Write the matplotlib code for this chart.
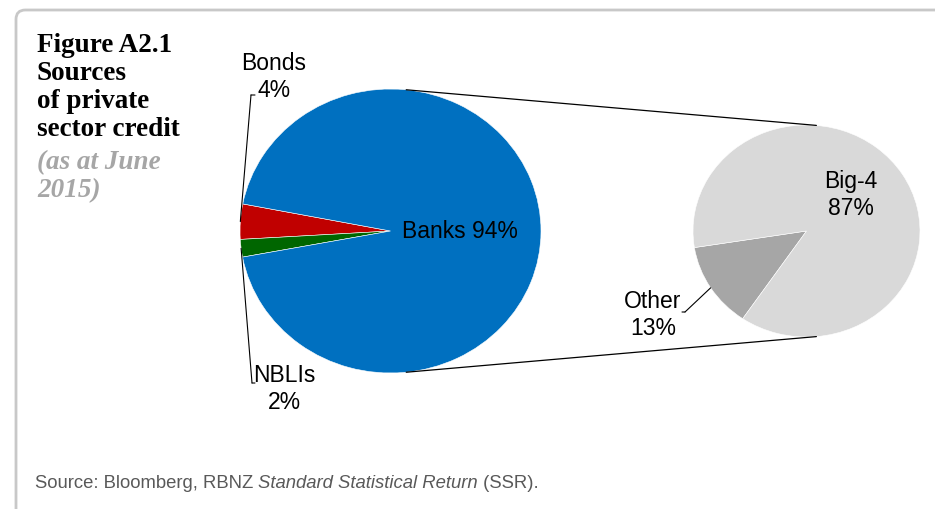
import numpy as np
import matplotlib
matplotlib.use("Agg")
import matplotlib.pyplot as plt
from matplotlib.patches import FancyBboxPatch, ConnectionPatch

# data
main_labels = ["Bonds", "NBLIs", "Banks"]
main_values = [4, 2, 94]
main_colors = ["#C00000", "#006600", "#0070C0"]

bank_labels = ["Other", "Big-4"]
bank_values = [13, 87]
bank_colors = ["#A6A6A6", "#D9D9D9"]

W, H = 935, 509
fig = plt.figure(figsize=(W / 100, H / 100), dpi=100)
fig.patch.set_facecolor("white")


def fx(x):
    return x / W


def fy(y):
    return 1 - y / H


# card outline (rounded top-left corner)
card = FancyBboxPatch((fx(16), fy(560)), fx(1000), (560 - 10) / H,
                      boxstyle="round,pad=0,rounding_size=0.01",
                      transform=fig.transFigure, facecolor="none",
                      edgecolor="#C8C8C8", lw=2, mutation_aspect=W / H)
fig.patches.append(card)

# main pie
ax1 = fig.add_axes([fx(240), fy(373), 301 / W, 284 / H])
w1, _ = ax1.pie(main_values, colors=main_colors, startangle=169,
                counterclock=True,
                wedgeprops=dict(edgecolor="white", linewidth=0.4))
ax1.set_aspect("auto")
ax1.set_xlim(-1, 1)
ax1.set_ylim(-1, 1)

# bar-of-pie second pie
ax2 = fig.add_axes([fx(693), fy(337), 227 / W, 212 / H])
w2, _ = ax2.pie(bank_values, colors=bank_colors, startangle=189,
                counterclock=True,
                wedgeprops=dict(edgecolor="white", linewidth=0.4))
ax2.set_aspect("auto")
ax2.set_xlim(-1, 1)
ax2.set_ylim(-1, 1)

# connector lines between the pies
for a1, a2 in [(84, 85), (-84, -85)]:
    r1, r2 = np.deg2rad(a1), np.deg2rad(a2)
    con = ConnectionPatch(xyA=(np.cos(r1), np.sin(r1)), coordsA=ax1.transData,
                          xyB=(np.cos(r2), np.sin(r2)), coordsB=ax2.transData,
                          color="black", lw=0.9)
    fig.add_artist(con)


def mid(w):
    a = np.deg2rad((w.theta1 + w.theta2) / 2)
    return np.cos(a), np.sin(a)


lab = dict(family="Liberation Sans", fontsize=16.5, color="black",
           ha="center", va="center", linespacing=1.25)

# leader lines (short horizontal stub next to the label, then to the slice)
lead = dict(arrowstyle="-", color="black", lw=0.8, shrinkA=0, shrinkB=0)
for ax, w, (x0, y0), stub in [(ax1, w1[0], (251, 95), 4),
                              (ax1, w1[1], (252, 383), 3),
                              (ax2, w2[0], (685, 312), -3)]:
    ax.annotate("", xy=mid(w), xycoords="data",
                xytext=(x0, H - y0), textcoords="figure pixels",
                arrowprops=lead)
    ax.annotate("", xy=(x0, H - y0), xycoords="figure pixels",
                xytext=(x0 + stub, H - y0), textcoords="figure pixels",
                arrowprops=lead)

fig.text(fx(274), fy(77), "Bonds\n4%", **lab)
fig.text(fx(284), fy(389), "NBLIs\n2%", **lab)
fig.text(fx(460), fy(232), "Banks 94%", **lab)
fig.text(fx(851), fy(195), "Big-4\n87%", **lab)
fig.text(fx(653), fy(315), "Other\n13%", **lab)

# title block
fig.text(fx(37), fy(33), "Figure A2.1\nSources\nof private\nsector credit",
         family="Liberation Serif", weight="bold", fontsize=19.5,
         color="black", ha="left", va="top", linespacing=1.15)
fig.text(fx(37), fy(150), "(as at June\n2015)",
         family="Liberation Serif", weight="bold", style="italic",
         fontsize=19.5, color="#A6A6A6", ha="left", va="top",
         linespacing=1.15)

# source note, mixed upright / italic
renderer = fig.canvas.get_renderer()
parts = [("Source: Bloomberg, RBNZ ", "normal"),
         ("Standard Statistical Return", "italic"),
         (" (SSR).", "normal")]
x = 35
for s, st in parts:
    t = fig.text(x / W, fy(483), s, family="Liberation Sans", style=st,
                 fontsize=13.3, color="#595959", ha="left", va="center")
    x = t.get_window_extent(renderer).x1

fig.savefig("out.png", dpi=100)
